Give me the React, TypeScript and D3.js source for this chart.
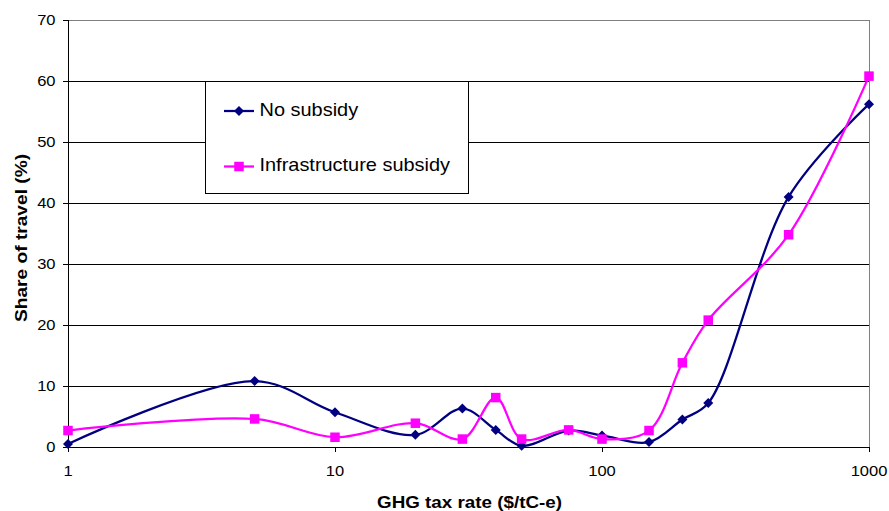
import React from "react";
import * as d3 from "d3";

const taxRates = [1, 5, 10, 20, 30, 40, 50, 75, 100, 150, 200, 250, 500, 1000];
const noSubsidy = [0.5, 10.8, 5.7, 2.0, 6.3, 2.8, 0.2, 2.7, 1.9, 0.8, 4.5, 7.2, 41.0, 56.2];
const infraSubsidy = [2.7, 4.6, 1.6, 3.9, 1.3, 8.1, 1.3, 2.8, 1.3, 2.7, 13.8, 20.8, 34.8, 60.8];
const yTicks = [0, 10, 20, 30, 40, 50, 60, 70];
const xTicks = [1, 10, 100, 1000];
const seriesNames = ["No subsidy", "Infrastructure subsidy"];

const W = 889;
const H = 511;
const FONT = "'Liberation Sans', Arial, sans-serif";
const STRETCH = 1.14;

function T({ x, y, size, anchor = "start", rotate = 0, bold = false, children }: any) {
  return (
    <text
      transform={`translate(${x},${y}) rotate(${rotate}) scale(${STRETCH},1)`}
      fontSize={size}
      fontFamily={FONT}
      fontWeight={bold ? "bold" : "normal"}
      textAnchor={anchor}
      fill="#000"
    >
      {children}
    </text>
  );
}

export default function App() {
  const x = d3.scaleLog().domain([1, 1000]).range([68, 869]);
  const y = d3.scaleLinear().domain([0, 70]).range([447, 20]);
  const line = d3
    .line<[number, number]>()
    .x((d) => x(d[0]))
    .y((d) => y(d[1]))
    .curve(d3.curveCatmullRom.alpha(0.5));

  const blue = "#000080";
  const pink = "#FF00FF";
  const bluePts = taxRates.map((t, i) => [t, noSubsidy[i]] as [number, number]);
  const pinkPts = taxRates.map((t, i) => [t, infraSubsidy[i]] as [number, number]);

  const diamond = (cx: number, cy: number, r: number) =>
    `M${cx},${cy - r}L${cx + r},${cy}L${cx},${cy + r}L${cx - r},${cy}Z`;
  const sq = 4.75;
  const dr = 5;

  const legX = 205, legY = 81, legW = 263, legH = 112;
  const row1 = 111, row2 = 166.5;

  return (
    <svg
      width={W}
      height={H}
      style={{ position: "absolute", left: 0, top: 0, background: "#fff" }}
    >
      <rect x={0} y={0} width={W} height={H} fill="#fff" />
      {yTicks.filter((t) => t > 0 && t < 70).map((t) => (
        <line key={t} x1={68} x2={869} y1={y(t)} y2={y(t)} stroke="#000" strokeWidth={1} shapeRendering="crispEdges" />
      ))}
      <line x1={68} x2={869} y1={y(70)} y2={y(70)} stroke="#808080" shapeRendering="crispEdges" />
      <line x1={869} x2={869} y1={y(70)} y2={y(0)} stroke="#808080" shapeRendering="crispEdges" />
      <line x1={68} x2={68} y1={y(70)} y2={y(0)} stroke="#000" shapeRendering="crispEdges" />
      <line x1={68} x2={869} y1={y(0)} y2={y(0)} stroke="#000" shapeRendering="crispEdges" />
      {yTicks.map((t) => (
        <g key={t}>
          <line x1={63} x2={68} y1={y(t)} y2={y(t)} stroke="#000" shapeRendering="crispEdges" />
          <T x={55.5} y={y(t) + 5} size={14.5} anchor="end">{t}</T>
        </g>
      ))}
      {xTicks.map((t) => (
        <g key={t}>
          <line x1={x(t)} x2={x(t)} y1={447} y2={452} stroke="#000" shapeRendering="crispEdges" />
          <T x={x(t)} y={475.5} size={14.5} anchor="middle">{t}</T>
        </g>
      ))}
      <T x={469.5} y={508} size={16.5} anchor="middle" bold>GHG tax rate ($/tC-e)</T>
      <T x={26.5} y={238} size={16.8} anchor="middle" rotate={-90} bold>Share of travel (%)</T>

      <path d={line(bluePts) || ""} fill="none" stroke={blue} strokeWidth={2.25} />
      {bluePts.map((p, i) => (
        <path key={i} d={diamond(x(p[0]), y(p[1]), dr)} fill={blue} />
      ))}
      <path d={line(pinkPts) || ""} fill="none" stroke={pink} strokeWidth={2.25} />
      {pinkPts.map((p, i) => (
        <rect key={i} x={x(p[0]) - sq} y={y(p[1]) - sq} width={sq * 2} height={sq * 2} fill={pink} />
      ))}

      <rect x={legX} y={legY} width={legW} height={legH} fill="#fff" stroke="#000" strokeWidth={1} shapeRendering="crispEdges" />
      <line x1={224} x2={254} y1={row1} y2={row1} stroke={blue} strokeWidth={2.25} />
      <path d={diamond(239, row1, dr)} fill={blue} />
      <T x={259.5} y={row1 + 4.5} size={17.5}>{seriesNames[0]}</T>
      <line x1={224} x2={254} y1={row2} y2={row2} stroke={pink} strokeWidth={2.25} />
      <rect x={239 - sq} y={row2 - sq} width={sq * 2} height={sq * 2} fill={pink} />
      <T x={259.5} y={row2 + 4.5} size={17.5}>{seriesNames[1]}</T>
    </svg>
  );
}
